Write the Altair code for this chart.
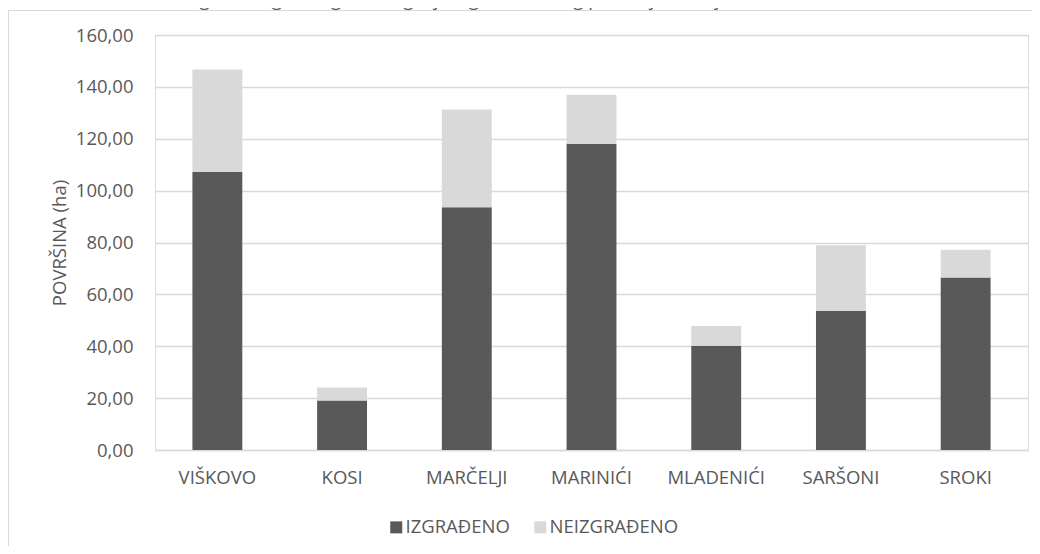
import altair as alt
import pandas as pd

categories = ["VIŠKOVO", "KOSI", "MARČELJI", "MARINIĆI", "MLADENIĆI", "SARŠONI", "SROKI"]
izgradeno = [107.3, 19.1, 93.6, 118.1, 40.2, 53.7, 66.5]
neizgradeno = [39.4, 5.0, 37.7, 18.9, 7.6, 25.2, 10.7]
series = ["IZGRAĐENO", "NEIZGRAĐENO"]
colors = ["#595959", "#d9d9d9"]
y_ticks = [0, 20, 40, 60, 80, 100, 120, 140, 160]
title_text = "Grafikon 2. Odnos izgrađenog i neizgrađenog dijela građevinskog područja naselja"
y_title = "POVRŠINA (ha)"

rows = []
for c, a, b in zip(categories, izgradeno, neizgradeno):
    rows.append({"naselje": c, "vrsta": series[0], "povrsina": a, "red": 0})
    rows.append({"naselje": c, "vrsta": series[1], "povrsina": b, "red": 1})
df = pd.DataFrame(rows)

FONT = "Open Sans"
FS = 18.5
TXT = "#595959"
W, H = 873, 415
PAD = {"left": 147, "top": 27, "right": 4, "bottom": 96}

bars = alt.Chart(df).mark_bar().encode(
    x=alt.X(
        "naselje:N",
        sort=categories,
        scale=alt.Scale(paddingInner=0.6, paddingOuter=0.3),
        axis=alt.Axis(
            title=None, labelAngle=0, ticks=False, domain=True,
            domainColor="#d9d9d9", domainWidth=1.5, labelPadding=18,
            labelFontSize=FS, labelColor=TXT, labelFont=FONT,
        ),
    ),
    y=alt.Y(
        "povrsina:Q",
        stack="zero",
        scale=alt.Scale(domain=[0, 160], nice=False),
        axis=alt.Axis(
            values=y_ticks,
            labelExpr="replace(format(datum.value, '.2f'), '.', ',')",
            title=y_title, titleFont=FONT, titleFontSize=FS, titleFontWeight="normal",
            titleColor=TXT, titlePadding=6,
            ticks=False, domain=False, grid=True, gridColor="#d9d9d9", gridWidth=1.5,
            labelPadding=22, labelFontSize=FS, labelColor=TXT, labelFont=FONT,
        ),
    ),
    color=alt.Color(
        "vrsta:N",
        scale=alt.Scale(domain=series, range=colors),
        legend=alt.Legend(
            title=None, orient="none", direction="horizontal",
            legendX=232, legendY=483, symbolType="square", symbolSize=144,
            symbolStrokeWidth=0, labelFontSize=FS, labelColor=TXT, labelFont=FONT,
            labelOffset=0, columnPadding=21, padding=0,
        ),
    ),
    order=alt.Order("red:Q"),
)

one = pd.DataFrame({"k": [0]})
frame_top = alt.Chart(one).mark_rule(stroke="#d9d9d9", strokeWidth=1).encode(
    x=alt.value(-146.5), x2=alt.value(W + PAD["right"]), y=alt.value(-24.5)
)
frame_left = alt.Chart(one).mark_rule(stroke="#d9d9d9", strokeWidth=1).encode(
    x=alt.value(-146.5), y=alt.value(-24.5), y2=alt.value(H + PAD["bottom"])
)

title = alt.Chart(one).mark_text(
    text=title_text, font=FONT, fontSize=FS, color=TXT, align="left", baseline="alphabetic"
).encode(x=alt.value(-130), y=alt.value(-29.5))

chart = alt.layer(frame_top, frame_left, bars, title).properties(
    width=W, height=H,
    autosize=alt.AutoSizeParams(type="none"),
    padding=PAD,
).configure_view(stroke=None).configure(background="white")

chart.save("out.html", embed_options={"renderer": "svg", "actions": False})
